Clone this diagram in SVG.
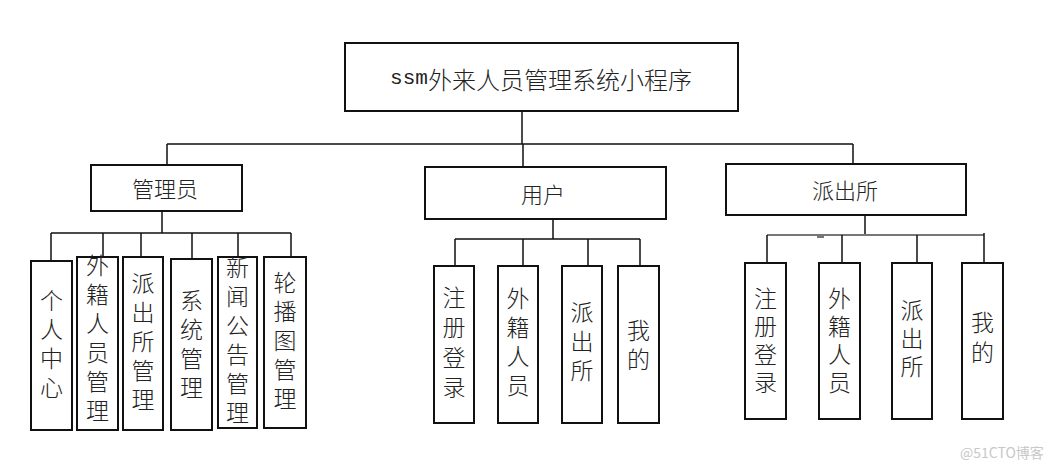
<svg xmlns="http://www.w3.org/2000/svg" width="1056" height="470" viewBox="0 0 1056 470">
<style>
.box{fill:#fff;stroke:#111;stroke-width:2}
.ln{stroke:#111;stroke-width:1.5;fill:none}
.gl{stroke:#777;stroke-width:2;fill:none}
.t{font-family:"Noto Sans CJK SC","Liberation Serif",sans-serif;font-weight:300;fill:#222;text-anchor:middle;dominant-baseline:central}
.h{font-size:22px}
.v{font-size:23px;writing-mode:vertical-rl;letter-spacing:6px}
.v5{letter-spacing:5px}
.v7{letter-spacing:7px}
.m{font-family:"Liberation Mono",monospace;font-weight:400}
.wm{font-family:"Noto Sans CJK SC","Liberation Sans",sans-serif;font-size:14px;fill:#c8c8c8}
</style>
<rect width="1056" height="470" fill="#fff"/>
<g id="connectors">
<path class="ln" d="M522 111V144M167 144H853M167 144V165M523 144V167M853 144V164"/>
<path class="ln" d="M162 211V233M51 233H291M51 233V261M103 233V257M141 233V257M192 233V259M238 233V257M291 233V257"/>
<path class="ln" d="M553 219V239M455 239H640M455 239V266M523 239V266M588 239V266M640 239V266"/>
<path class="ln" d="M865 215V235"/>
<path class="gl" d="M767 235H984"/>
<path class="ln" d="M767 235V263M842 235V263M917 235V263M984 233V263"/>
<path class="gl" d="M817 237H824"/>
</g>
<g id="root"><rect class="box" x="345" y="43" width="393" height="68"/><text class="t" x="541" y="78" font-size="24"><tspan class="m" font-size="21">ssm</tspan>外来人员管理系统小程序</text></g>
<g id="admin"><rect class="box" x="91" y="165" width="151" height="46"/><text class="t h" x="165" y="187">管理员</text></g>
<g id="user"><rect class="box" x="425" y="167" width="241" height="52"/><text class="t h" x="543" y="193">用户</text></g>
<g id="police"><rect class="box" x="726" y="164" width="240" height="51"/><text class="t h" x="845" y="189">派出所</text></g>
<g id="a1"><rect class="box" x="31" y="261" width="41" height="169"/><text class="t v" x="51.5" y="346.5">个人中心</text></g>
<g id="a2"><rect class="box" x="77" y="257" width="41" height="173"/><text class="t v" x="97.5" y="340.5">外籍人员管理</text></g>
<g id="a3"><rect class="box" x="123" y="257" width="40" height="173"/><text class="t v" x="143" y="344">派出所管理</text></g>
<g id="a4"><rect class="box" x="171" y="259" width="41" height="171"/><text class="t v" x="191.5" y="346.5">系统管理</text></g>
<g id="a5"><rect class="box" x="218" y="257" width="39" height="171"/><text class="t v" x="237.5" y="342.5">新闻公告管理</text></g>
<g id="a6"><rect class="box" x="264" y="257" width="42" height="171"/><text class="t v" x="285" y="343">轮播图管理</text></g>
<g id="u1"><rect class="box" x="434" y="266" width="40" height="157"/><text class="t v v7" x="454" y="346">注册登录</text></g>
<g id="u2"><rect class="box" x="498" y="266" width="40" height="157"/><text class="t v" x="518" y="344.5">外籍人员</text></g>
<g id="u3"><rect class="box" x="562" y="266" width="40" height="157"/><text class="t v" x="582" y="344">派出所</text></g>
<g id="u4"><rect class="box" x="618" y="266" width="41" height="157"/><text class="t v" x="638.5" y="347.5">我的</text></g>
<g id="p1"><rect class="box" x="745" y="263" width="41" height="156"/><text class="t v v5" x="765.5" y="342.5">注册登录</text></g>
<g id="p2"><rect class="box" x="819" y="263" width="41" height="156"/><text class="t v v5" x="839.5" y="342.5">外籍人员</text></g>
<g id="p3"><rect class="box" x="892" y="263" width="40" height="156"/><text class="t v v5" x="912" y="340.5">派出所</text></g>
<g id="p4"><rect class="box" x="962" y="263" width="41" height="156"/><text class="t v v7" x="982.5" y="341">我的</text></g>
<text class="wm" x="960" y="458">@51CTO博客</text>
</svg>
